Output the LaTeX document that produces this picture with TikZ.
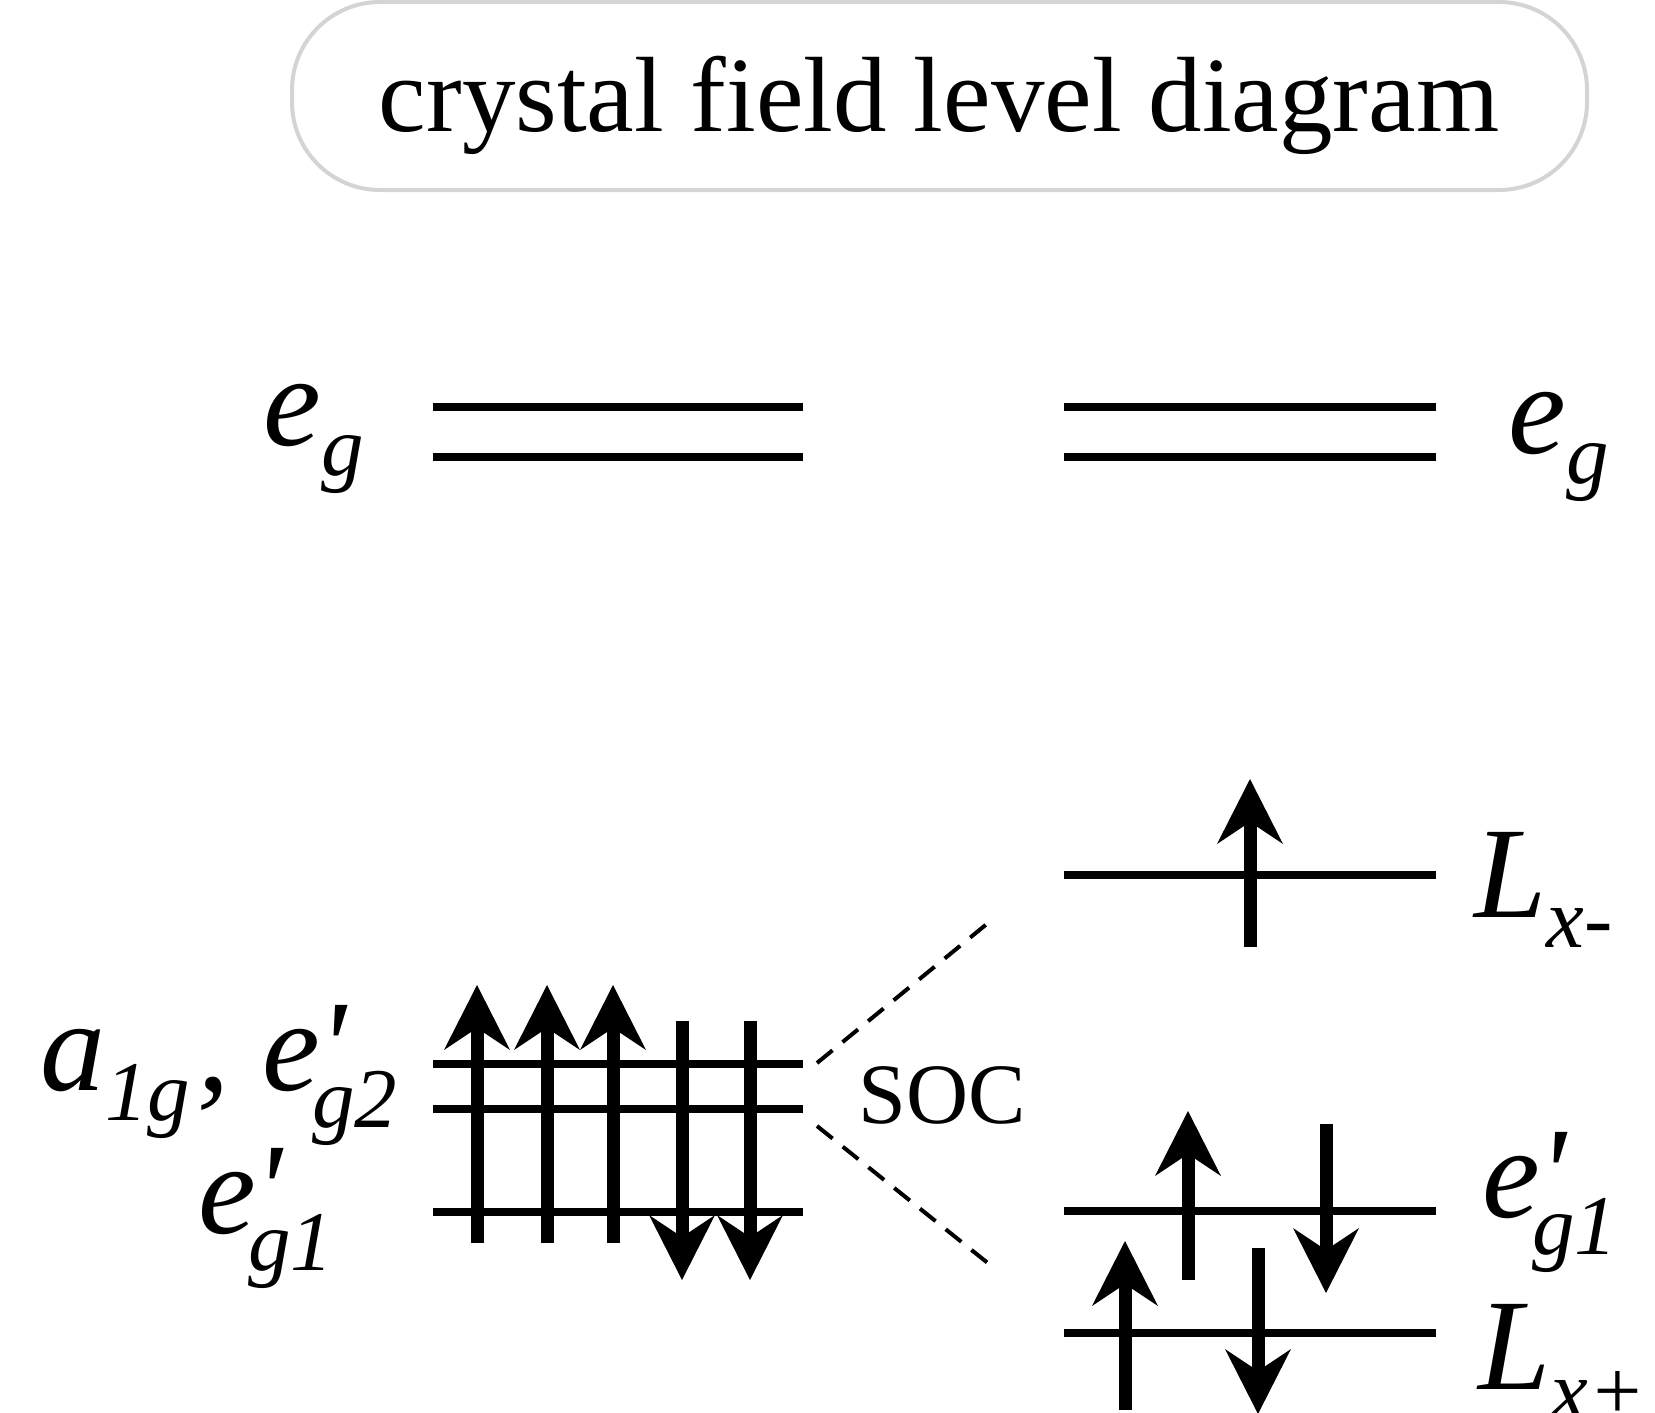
\documentclass[tikz,border=0pt]{standalone}
\usepackage{fontspec}
\setmainfont{Liberation Serif}
\usetikzlibrary{arrows.meta}
\newcommand\lsub[2]{\raisebox{-#1}{\fontsize{42.5}{45}\selectfont #2}}
\newcommand\lprime{\rlap{\kern-1pt\textquotesingle}}
\begin{document}
\begin{tikzpicture}[x=0.5pt,y=-0.5pt,
  lvl/.style={line width=4pt},
  spin/.style={line width=6.5pt,-{Stealth[length=32.5pt,width=33pt,inset=11pt,line width=0pt]}},
  lbl/.style={anchor=base west,inner sep=0pt,font=\fontsize{65}{70}\selectfont\itshape},
  socdash/.style={line width=2pt,dash pattern=on 10pt off 6.5pt},
  titlebox/.style={draw=black!17,line width=2pt,rounded corners=44pt,minimum width=647.5pt,minimum height=94pt,inner sep=0pt}]
\useasboundingbox (0,0) rectangle (1655,1413);
% title
\node[titlebox] (box) at (939.5,96) {};
\node[anchor=base,inner sep=0pt,font=\fontsize{53.5}{60}\selectfont] (title) at (939,132) {crystal field level diagram};
% e_g levels
\draw[lvl] (433,407) -- (803,407);
\draw[lvl] (433,457) -- (803,457);
\draw[lvl] (1064,407) -- (1436,407);
\draw[lvl] (1064,457) -- (1436,457);
% left lower levels
\draw[lvl] (433,1064) -- (803,1064);
\draw[lvl] (433,1109) -- (803,1109);
\draw[lvl] (433,1212) -- (803,1212);
% right lower levels
\draw[lvl] (1064,875) -- (1436,875);
\draw[lvl] (1064,1211) -- (1436,1211);
\draw[lvl] (1064,1333) -- (1436,1333);
% left spins
\draw[spin] (477,1243) -- (477,985);
\draw[spin] (547,1243) -- (547,985);
\draw[spin] (613,1243) -- (613,985);
\draw[spin] (682,1021) -- (682,1280);
\draw[spin] (750,1021) -- (750,1280);
% right spins
\draw[spin] (1250,947) -- (1250,779);
\draw[spin] (1188,1280) -- (1188,1111);
\draw[spin] (1326,1124) -- (1326,1293);
\draw[spin] (1125,1410) -- (1125,1241);
\draw[spin] (1258,1248) -- (1258,1414);
% SOC connectors
\coordinate (d1s) at (817,1063);
\coordinate (d1e) at (988,923);
\coordinate (d2s) at (817,1126);
\coordinate (d2e) at (994,1268);
\draw[socdash] (d1s) -- (d1e);
\draw[socdash] (d2s) -- (d2e);
\node[anchor=base west,inner sep=0pt,font=\fontsize{43}{45}\selectfont] (soc) at (858,1123) {SOC};
% labels
\node[lbl] (egL) at (263,445) {e\lsub{15pt}{g}};
\node[lbl] (egR) at (1508,453) {e\lsub{15pt}{g}};
\node[lbl] (a1g) at (40,1090) {a\lsub{15pt}{1g}\kern3.5pt, e\lprime\kern-4pt\lsub{18.5pt}{g2}};
\node[lbl] (eg1L) at (198,1233) {e\lprime\kern-4pt\lsub{18.5pt}{g1}};
\node[lbl] (Lxm) at (1474,917) {L\lsub{15pt}{x-}};
\node[lbl] (eg1R) at (1482,1217) {e\lprime\kern-4pt\lsub{18.5pt}{g1}};
\node[lbl] (Lxp) at (1478,1389) {L\lsub{15pt}{x+}};
\end{tikzpicture}
\end{document}
